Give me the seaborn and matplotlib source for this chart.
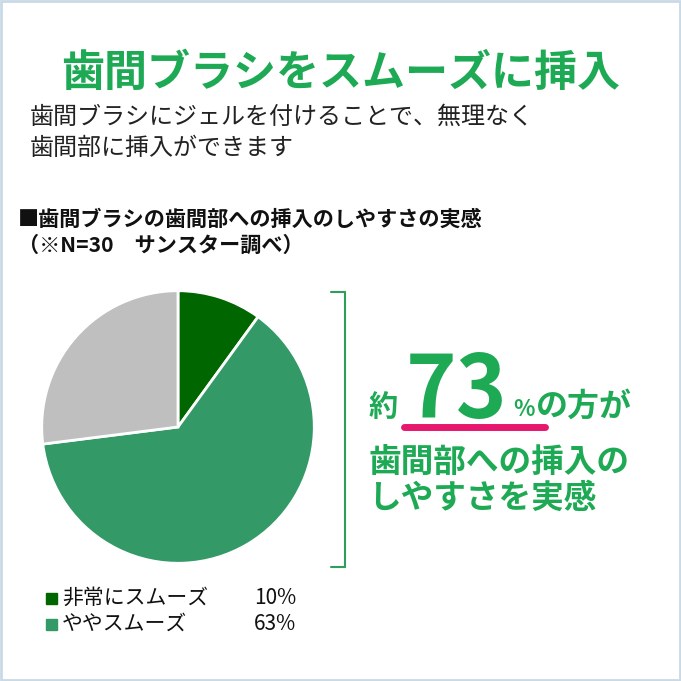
import matplotlib
matplotlib.use("Agg")
import matplotlib.pyplot as plt
import seaborn as sns
from matplotlib.patches import Rectangle
from matplotlib.lines import Line2D

sns.set_theme(style="white")
plt.rcParams['font.family'] = ['Noto Sans CJK JP', 'DejaVu Sans']

# data
labels = ["非常にスムーズ", "ややスムーズ", "その他"]
values = [10, 63, 27]
colors = ["#006600", "#339966", "#BFBFBF"]
legend_labels = labels[:2]
legend_values = ["10%", "63%"]

title = "歯間ブラシをスムーズに挿入"
subtitle = ["歯間ブラシにジェルを付けることで、無理なく", "歯間部に挿入ができます"]
header = ["■歯間ブラシの歯間部への挿入のしやすさの実感", "（※N=30　サンスター調べ）"]
callout = ["歯間部への挿入の", "しやすさを実感"]
big_number = "73"

W = H = 681
fig = plt.figure(figsize=(6.81, 6.81), dpi=100)
fig.patch.set_facecolor("white")

def fx(x):
    return x / W

def fy(y):
    return 1 - y / H

green = "#1EAA55"

# border
fig.patches.append(Rectangle((0.001, 0.001), 0.998, 0.998, transform=fig.transFigure,
                             fill=False, edgecolor="#C9D9E6", linewidth=2))

fig.text(fx(341), fy(73), title, color=green, fontsize=31, fontweight="bold",
         ha="center", va="center")
for i, line in enumerate(subtitle):
    fig.text(fx(30), fy(117 + 31 * i), line, color="#222222", fontsize=17.3,
             ha="left", va="center")
for i, line in enumerate(header):
    fig.text(fx(18), fy(219 + 26 * i), line, color="#111111", fontsize=15.2,
             fontweight="bold", ha="left", va="center")

# pie
cx, cy, r = 178, 427, 139
ax = fig.add_axes([fx(cx - r), fy(cy + r), 2 * r / W, 2 * r / H])
ax.pie(values, colors=colors, startangle=90, counterclock=False,
       wedgeprops=dict(edgecolor="white", linewidth=2))
ax.set_xlim(-1.02, 1.02)
ax.set_ylim(-1.02, 1.02)
ax.set_aspect("equal")
ax.axis("off")

# bracket
bc = "#2E9E5B"
fig.lines.append(Line2D([fx(345), fx(345)], [fy(292), fy(567)], color=bc, lw=1.5,
                        transform=fig.transFigure))
fig.lines.append(Line2D([fx(331), fx(345)], [fy(292), fy(292)], color=bc, lw=1.5,
                        transform=fig.transFigure))
fig.lines.append(Line2D([fx(331), fx(345)], [fy(567), fy(567)], color=bc, lw=1.5,
                        transform=fig.transFigure))

# callout
fig.lines.append(Line2D([fx(404), fx(545)], [fy(427), fy(427)], color="#E8176E", lw=5,
                        solid_capstyle="round", transform=fig.transFigure))
fig.text(fx(369), fy(416), "約", color=green, fontsize=21, fontweight="bold",
         ha="left", va="baseline")
fig.text(fx(457), fy(418), big_number, color=green, fontsize=62, fontweight="bold",
         ha="center", va="baseline")
fig.text(fx(513), fy(416), "%", color=green, fontsize=16, fontweight="bold",
         ha="left", va="baseline")
fig.text(fx(536), fy(416), "の方が", color=green, fontsize=23, fontweight="bold",
         ha="left", va="baseline")
for i, line in enumerate(callout):
    fig.text(fx(368), fy(462 + 36 * i), line, color=green, fontsize=23.5,
             fontweight="bold", ha="left", va="center")

# legend
for i, (lab, val) in enumerate(zip(legend_labels, legend_values)):
    y = 598 + 26 * i
    fig.patches.append(Rectangle((fx(46), fy(y + 6)), 11 / W, 11 / H,
                                 transform=fig.transFigure, color=colors[i]))
    fig.text(fx(62), fy(y), lab, color="#111111", fontsize=15, ha="left", va="center")
    fig.text(fx(254), fy(y), val, color="#111111", fontsize=15, ha="left", va="center")

fig.savefig("out.png", dpi=100)
